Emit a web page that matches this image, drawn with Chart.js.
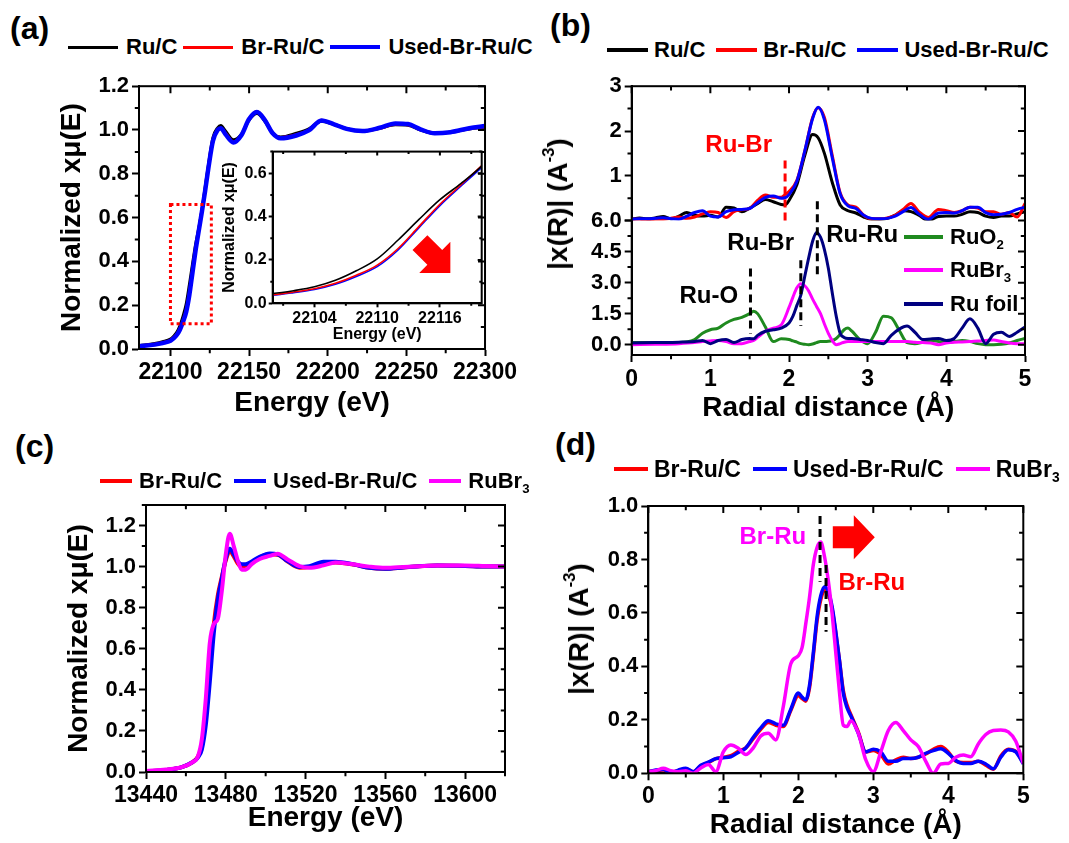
<!DOCTYPE html>
<html>
<head>
<meta charset="utf-8">
<title>Ru K-edge and Br K-edge XAS</title>
<script src="https://cdn.jsdelivr.net/npm/chart.js@4.4.1/dist/chart.umd.min.js"></script>
<style>
  body { margin: 0; width: 1069px; height: 843px; position: relative; overflow: hidden; background: #fff;
         font-family: "Liberation Sans", Arial, Helvetica, sans-serif; font-weight: bold; color: #000; }
  canvas { position: absolute; }
  .tag { position: absolute; font-size: 32px; line-height: 32px; }
  .legend { position: absolute; display: flex; align-items: center; white-space: nowrap; }
  .legend .ln { display: inline-block; }
  .ytitle { position: absolute; font-size: 28px; line-height: 28px; white-space: nowrap;
            transform: translate(-50%, -50%) rotate(-90deg); }
  sub { font-size: 0.6em; vertical-align: -0.35em; line-height: 0; }
  sup { font-size: 0.6em; vertical-align: 0.75em; line-height: 0; }
</style>
</head>
<body>
<div class="tag" style="left:10px; top:12px;">(a)</div>
<div class="tag" style="left:550px; top:9px;">(b)</div>
<div class="tag" style="left:15px; top:430px;">(c)</div>
<div class="tag" style="left:555px; top:428px;">(d)</div>

<canvas id="chartA" width="520" height="350" style="left:0; top:70px;"></canvas>
<canvas id="chartInset" width="275" height="206" style="left:215px; top:140px;"></canvas>
<canvas id="chartB" width="529" height="360" style="left:540px; top:70px;"></canvas>
<canvas id="chartC" width="530" height="410" style="left:0; top:430px;"></canvas>
<canvas id="chartD" width="529" height="412" style="left:540px; top:430px;"></canvas>

<div class="ytitle" style="left:558px; top:204px;">|x(R)| (A<sup>-3</sup>)</div>
<div class="ytitle" style="left:579px; top:629px;">|x(R)| (A<sup>-3</sup>)</div>

<script>
// ---------- data ----------

// (a) Ru K-edge XANES (also used by the inset)
const energyA = [22080, 22090, 22095, 22100, 22102, 22104, 22106, 22108, 22110, 22112, 22114, 22116, 22118, 22120,
                 22122, 22124, 22127, 22130, 22132, 22135, 22140, 22145, 22150, 22155, 22160, 22165, 22170, 22180,
                 22188, 22196, 22204, 22212, 22222, 22233, 22243, 22251, 22259, 22268, 22278, 22290, 22300];
const ruC_A = [0.015, 0.025, 0.033, 0.045, 0.058, 0.076, 0.106, 0.150, 0.205, 0.292, 0.387, 0.478, 0.552, 0.633,
               0.735, 0.835, 0.965, 1.01, 1.02, 0.995, 0.955, 0.98, 1.045, 1.075, 1.04, 0.985, 0.968, 0.985,
               1.005, 1.04, 1.025, 1.006, 0.995, 1.008, 1.024, 1.022, 1.0, 0.985, 0.99, 1.005, 1.012];
const brRuC_A = [0.013, 0.022, 0.029, 0.040, 0.052, 0.067, 0.092, 0.129, 0.176, 0.253, 0.355, 0.457, 0.546, 0.636,
                 0.725, 0.825, 0.955, 1.0, 1.008, 0.985, 0.945, 0.975, 1.05, 1.085, 1.048, 0.987, 0.965, 0.978,
                 1.0, 1.045, 1.027, 1.006, 0.995, 1.008, 1.026, 1.024, 1.002, 0.986, 0.99, 1.006, 1.015];
const usedA = [0.012, 0.02, 0.027, 0.037, 0.049, 0.064, 0.088, 0.124, 0.169, 0.246, 0.349, 0.451, 0.540, 0.627,
               0.72, 0.82, 0.95, 1.0, 1.008, 0.98, 0.943, 0.975, 1.05, 1.082, 1.045, 0.985, 0.962, 0.975,
               0.998, 1.043, 1.026, 1.005, 0.995, 1.01, 1.03, 1.027, 1.003, 0.985, 0.99, 1.008, 1.018];

// (b) FT-EXAFS, upper samples
const radiusB = [0, 0.1, 0.2, 0.3, 0.4, 0.5, 0.6, 0.7, 0.8, 0.9, 1.0, 1.1, 1.2, 1.3, 1.4, 1.5, 1.6, 1.7, 1.8, 1.9,
                 1.95, 2.0, 2.1, 2.2, 2.3, 2.37, 2.45, 2.55, 2.65, 2.75, 2.85, 2.95, 3.05, 3.15, 3.25, 3.35, 3.45,
                 3.55, 3.65, 3.77, 3.9, 4.0, 4.1, 4.2, 4.3, 4.4, 4.5, 4.6, 4.7, 4.8, 4.9, 5.0];
const ruC_B = [0.03, 0.06, 0.04, 0.06, 0.09, 0.04, 0.1, 0.18, 0.12, 0.1, 0.12, 0.08, 0.3, 0.28, 0.2, 0.28, 0.38, 0.47,
               0.42, 0.36, 0.35, 0.45, 0.8, 1.45, 1.92, 1.85, 1.5, 0.85, 0.35, 0.22, 0.17, 0.08, 0.03, 0.03, 0.05,
               0.12, 0.22, 0.2, 0.12, 0.0, 0.09, 0.1, 0.1, 0.14, 0.2, 0.18, 0.1, 0.07, 0.1, 0.1, 0.15, 0.2];
const brRuC_B = [0.03, 0.03, 0.0, 0.03, 0.03, 0.05, 0.08, 0.05, 0.08, 0.15, 0.2, 0.18, 0.07, 0.2, 0.24, 0.27, 0.45,
                 0.57, 0.52, 0.52, 0.58, 0.65, 0.9, 1.55, 2.3, 2.52, 2.3, 1.45, 0.62, 0.35, 0.3, 0.12, 0.04, 0.04,
                 0.06, 0.12, 0.25, 0.38, 0.2, 0.07, 0.25, 0.22, 0.18, 0.22, 0.3, 0.28, 0.2, 0.2, 0.14, 0.18, 0.08, 0.38];
const usedB = [0.03, 0.04, 0.04, 0.05, 0.066, 0.04, 0.03, 0.1, 0.18, 0.22, 0.1, 0.08, 0.2, 0.24, 0.25, 0.27, 0.4,
               0.52, 0.55, 0.5, 0.51, 0.58, 0.88, 1.55, 2.28, 2.53, 2.25, 1.4, 0.6, 0.33, 0.27, 0.12, 0.05, 0.04,
               0.05, 0.1, 0.2, 0.29, 0.15, 0.03, 0.17, 0.18, 0.17, 0.22, 0.3, 0.3, 0.18, 0.13, 0.14, 0.18, 0.25, 0.3];

// (b) FT-EXAFS, references (lower part)
const radiusRef = [0, 0.3, 0.6, 0.8, 0.9, 1.0, 1.1, 1.2, 1.3, 1.4, 1.5, 1.55, 1.6, 1.7, 1.8, 1.9, 2.0, 2.05, 2.1,
                   2.15, 2.2, 2.25, 2.3, 2.35, 2.4, 2.45, 2.5, 2.55, 2.6, 2.65, 2.7, 2.75, 2.8, 2.9, 3.0, 3.1, 3.2,
                   3.3, 3.4, 3.5, 3.6, 3.7, 3.8, 3.9, 4.0, 4.1, 4.2, 4.3, 4.4, 4.5, 4.6, 4.7, 4.8, 4.9, 5.0];
const ruO2_B = [0.11, 0.11, 0.11, 0.25, 0.55, 0.72, 0.8, 1.05, 1.22, 1.32, 1.5, 1.62, 1.5, 0.85, 0.15, 0.28, 0.25,
                0.18, 0.12, 0.05, 0.02, 0.0, 0.03, 0.1, 0.15, 0.15, 0.16, 0.2, 0.3, 0.5, 0.72, 0.8, 0.65, 0.25, 0.05,
                0.6, 1.38, 1.3, 0.7, 0.1, 0.05, 0.12, 0.2, 0.15, 0.1, 0.15, 0.2, 0.15, 0.05, 0.0, 0.0, 0.02, 0.08,
                0.2, 0.3];
const ruBr3_B = [0.0, 0.02, 0.05, 0.1, 0.15, 0.18, 0.2, 0.15, 0.05, 0.05, 0.15, 0.2, 0.35, 0.65, 0.8, 0.95, 1.8,
                 2.3, 2.75, 2.95, 2.85, 2.6, 2.2, 1.85, 1.5, 1.0, 0.55, 0.2, 0.0, 0.05, 0.12, 0.15, 0.15, 0.15, 0.15,
                 0.15, 0.15, 0.15, 0.15, 0.15, 0.12, 0.1, 0.08, 0.0, 0.08, 0.12, 0.13, 0.15, 0.18, 0.2, 0.22, 0.15,
                 0.08, 0.05, 0.05];
const ruFoil_B = [0.08, 0.1, 0.12, 0.15, 0.2, 0.05, 0.2, 0.25, 0.1, 0.25, 0.3, 0.28, 0.45, 0.65, 0.72, 0.8, 1.05,
                  1.38, 1.9, 2.4, 3.3, 4.2, 5.0, 5.43, 5.2, 4.6, 3.7, 2.5, 1.38, 0.55, 0.35, 0.3, 0.3, 0.25, 0.2,
                  0.1, 0.05, 0.45, 0.75, 0.9, 0.6, 0.25, 0.28, 0.3, 0.2, 0.3, 0.8, 1.25, 0.8, 0.05, 0.5, 0.6, 0.4,
                  0.6, 0.85];

// (c) Br K-edge XANES
const energyC = [13440, 13450, 13458, 13463, 13466, 13468, 13470, 13472, 13474, 13476, 13478, 13480, 13482, 13484,
                 13486, 13488, 13490, 13493, 13497, 13502, 13506, 13511, 13517, 13522, 13529, 13535, 13544, 13552,
                 13560, 13569, 13577, 13586, 13600, 13610, 13620];
const brRuC_C = [0.003, 0.01, 0.024, 0.046, 0.075, 0.13, 0.27, 0.5, 0.72, 0.86, 0.95, 1.03, 1.075, 1.05, 1.015, 1.0,
                 1.005, 1.02, 1.045, 1.06, 1.058, 1.025, 0.995, 0.998, 1.015, 1.02, 1.01, 0.994, 0.99, 0.996, 1.002,
                 1.005, 1.003, 1.0, 1.0];
const usedC = [0.003, 0.01, 0.024, 0.046, 0.07, 0.11, 0.23, 0.44, 0.676, 0.84, 0.94, 1.04, 1.087, 1.06, 1.025, 1.011,
               1.012, 1.025, 1.048, 1.064, 1.06, 1.027, 0.998, 1.002, 1.024, 1.024, 1.011, 0.994, 0.989, 0.996, 1.002,
               1.006, 1.003, 1.0, 1.0];
const ruBr3_C = [0.005, 0.012, 0.024, 0.046, 0.075, 0.16, 0.36, 0.63, 0.72, 0.745, 0.88, 1.06, 1.16, 1.1, 1.03, 0.985,
                 0.985, 1.012, 1.037, 1.052, 1.063, 1.035, 1.002, 0.994, 1.006, 1.02, 1.011, 1.0, 0.994, 0.998, 1.002,
                 1.005, 1.006, 1.003, 1.0];

// (d) Br K-edge FT-EXAFS
const radiusD = [0, 0.1, 0.2, 0.3, 0.4, 0.5, 0.6, 0.7, 0.8, 0.9, 1.0, 1.1, 1.2, 1.3, 1.4, 1.5, 1.6, 1.7, 1.8, 1.9, 2.0,
                 2.05, 2.1, 2.15, 2.2, 2.25, 2.3, 2.35, 2.4, 2.45, 2.5, 2.55, 2.6, 2.65, 2.7,
                 2.8, 2.9, 3.0, 3.1, 3.2, 3.3, 3.4, 3.5, 3.6, 3.7, 3.8, 3.9, 4.0, 4.1, 4.2, 4.3, 4.4, 4.5, 4.6, 4.7,
                 4.8, 4.9, 5.0];
const brRuC_D = [0.006, 0.01, 0.012, 0.004, 0.01, 0.017, 0.006, 0.028, 0.04, 0.055, 0.06, 0.066, 0.082, 0.095, 0.13,
                 0.165, 0.19, 0.18, 0.175, 0.235, 0.29,
                 0.28, 0.27, 0.32, 0.44, 0.57, 0.65, 0.685, 0.67, 0.615, 0.525, 0.42, 0.31, 0.255, 0.22,
                 0.155, 0.08, 0.085, 0.07, 0.035, 0.05, 0.06, 0.055, 0.06, 0.072, 0.09, 0.1, 0.08, 0.045, 0.04, 0.04,
                 0.045, 0.03, 0.015, 0.065, 0.09, 0.082, 0.04];
const usedD = [0.006, 0.012, 0.014, 0.002, 0.012, 0.019, 0.006, 0.03, 0.042, 0.055, 0.058, 0.062, 0.078, 0.095, 0.135,
               0.17, 0.197, 0.185, 0.18, 0.24, 0.3,
               0.285, 0.275, 0.33, 0.45, 0.585, 0.665, 0.698, 0.68, 0.625, 0.53, 0.42, 0.3, 0.245, 0.215,
               0.15, 0.08, 0.09, 0.08, 0.045, 0.045, 0.055, 0.055, 0.06, 0.075, 0.085, 0.092, 0.075, 0.048, 0.037,
               0.037, 0.045, 0.035, 0.017, 0.06, 0.088, 0.08, 0.035];
const ruBr3_D = [0.006, 0.01, 0.019, 0.01, 0.006, 0.01, 0.0, 0.02, 0.033, 0.006, 0.08, 0.106, 0.094, 0.07, 0.095,
                 0.14, 0.15, 0.125, 0.25, 0.41, 0.44,
                 0.47, 0.56, 0.66, 0.78, 0.845, 0.865, 0.81, 0.72, 0.6, 0.45, 0.3, 0.18, 0.175, 0.197,
                 0.15, 0.05, 0.006, 0.08, 0.16, 0.19, 0.16, 0.125, 0.1, 0.045, 0.0, 0.035, 0.037, 0.06, 0.068, 0.062,
                 0.11, 0.145, 0.16, 0.162, 0.155, 0.12, 0.037];

// tick values
const ticksXA = [22100, 22150, 22200, 22250, 22300];
const ticksYA = [0, 0.2, 0.4, 0.6, 0.8, 1.0, 1.2];
const ticksXInset = [22104, 22110, 22116];
const ticksYInset = [0, 0.2, 0.4, 0.6];
const ticksR = [0, 1, 2, 3, 4, 5];
const ticksYBup = [0, 1, 2, 3];
const ticksYBlow = [0, 1.5, 3.0, 4.5, 6.0];
const ticksXC = [13440, 13480, 13520, 13560, 13600];
const ticksYC = [0, 0.2, 0.4, 0.6, 0.8, 1.0, 1.2];
const ticksYD = [0, 0.2, 0.4, 0.6, 0.8, 1.0];

// ---------- chart setup ----------
const FONT = '"Liberation Sans", Arial, Helvetica, sans-serif';
Chart.defaults.font.family = FONT;
Chart.defaults.font.weight = 'bold';
Chart.defaults.color = '#000';

// extra drawing per canvas: minor tick steps and annotations
const extras = {
    chartA: {
        tick: 7, minor: { x: 25, y: 0.1 },
        boxes: [{ x0: 22100, x1: 22126, y0: 0.115, y1: 0.66, color: '#ff0000' }]
    },
    chartInset: {
        tick: 4, minor: { x: 3, y: 0.1 },
        arrows: [{ x: 22117, y: 0.14, angle: 45, len: 43, w: 21, hw: 44, hl: 22, color: '#ff0000' }]
    },
    chartB: {
        tick: 7, minor: { x: 0.5, y: 0.75, yUp: 0.5 },
        dashes: [
            { x: 1.95, y0: 0, a0: 'yUp', y1: 1.45, a1: 'yUp', color: '#ff0000' },
            { x: 2.36, y0: 0.43, a0: 'yUp', y1: 3.2, a1: 'y', color: '#000' },
            { x: 2.15, y0: 4.08, y1: 0.9, color: '#000' },
            { x: 1.51, y0: 3.68, y1: 0.51, color: '#000' }
        ],
        texts: [
            { text: 'Ru-Br', x: 1.36, y: 1.69, axis: 'yUp', color: '#ff0000', size: 24 },
            { text: 'Ru-Br', x: 1.64, y: 4.88, color: '#000', size: 24 },
            { text: 'Ru-Ru', x: 2.93, y: 5.29, color: '#000', size: 24 },
            { text: 'Ru-O', x: 0.98, y: 2.33, color: '#000', size: 24 }
        ]
    },
    chartC: { tick: 7, minor: { x: 20, y: 0.1 } },
    chartD: {
        tick: 7, minor: { x: 0.5, y: 0.1 },
        dashes: [
            { x: 2.29, y0: 0.963, y1: 0.717, color: '#000' },
            { x: 2.37, y0: 0.779, y1: 0.53, color: '#000' }
        ],
        arrows: [{ x: 3.02, y: 0.883, angle: 0, len: 42, w: 22, hw: 44, hl: 21, color: '#ff0000' }],
        texts: [
            { text: 'Br-Ru', x: 1.66, y: 0.883, color: '#ff00ff', size: 24 },
            { text: 'Br-Ru', x: 2.98, y: 0.711, color: '#ff0000', size: 24 }
        ]
    }
};

// closed frame with minor ticks and mirrored ticks on top / right
const framePlugin = {
    id: 'frame',
    afterDatasetsDraw(chart) {
        const spec = extras[chart.canvas.id];
        const ctx = chart.ctx, a = chart.chartArea;
        ctx.save();
        ctx.strokeStyle = '#000';
        ctx.lineWidth = 2;
        ctx.setLineDash([]);
        ctx.strokeRect(a.left, a.top, a.right - a.left, a.bottom - a.top);
        ctx.beginPath();
        Object.values(chart.scales).forEach(s => {
            const step = spec.minor[s.id];
            const majors = s.ticks.map(t => t.value);
            const n0 = Math.ceil(s.min / step - 1e-6), n1 = Math.floor(s.max / step + 1e-6);
            for (let k = n0; k <= n1; k++) {
                const v = k * step;
                const isMajor = majors.some(m => Math.abs(m - v) < step * 1e-3);
                const len = isMajor ? spec.tick : spec.tick * 0.6;
                const p = s.getPixelForValue(v);
                if (s.axis === 'x') {
                    if (!isMajor) { ctx.moveTo(p, a.bottom); ctx.lineTo(p, a.bottom + len); }
                    ctx.moveTo(p, a.top); ctx.lineTo(p, a.top + len);
                } else {
                    if (!isMajor) { ctx.moveTo(a.left - len, p); ctx.lineTo(a.left, p); }
                    ctx.moveTo(a.right, p); ctx.lineTo(a.right - len, p);
                }
            }
        });
        ctx.stroke();
        ctx.restore();
    }
};

// dashed markers, arrows, dotted box and labels placed in data coordinates
const notesPlugin = {
    id: 'notes',
    afterDatasetsDraw(chart) {
        const spec = extras[chart.canvas.id];
        const ctx = chart.ctx, sc = chart.scales;
        ctx.save();
        (spec.boxes || []).forEach(b => {
            ctx.setLineDash([3, 3]);
            ctx.lineWidth = 3;
            ctx.strokeStyle = b.color;
            const x0 = sc.x.getPixelForValue(b.x0), x1 = sc.x.getPixelForValue(b.x1);
            const y0 = sc.y.getPixelForValue(b.y0), y1 = sc.y.getPixelForValue(b.y1);
            ctx.strokeRect(x0, y1, x1 - x0, y0 - y1);
        });
        (spec.dashes || []).forEach(d => {
            ctx.setLineDash([8, 5]);
            ctx.lineWidth = 3;
            ctx.strokeStyle = d.color;
            const x = sc.x.getPixelForValue(d.x);
            ctx.beginPath();
            ctx.moveTo(x, sc[d.a0 || 'y'].getPixelForValue(d.y0));
            ctx.lineTo(x, sc[d.a1 || 'y'].getPixelForValue(d.y1));
            ctx.stroke();
        });
        ctx.setLineDash([]);
        (spec.arrows || []).forEach(r => {
            ctx.save();
            ctx.translate(sc.x.getPixelForValue(r.x), sc.y.getPixelForValue(r.y));
            ctx.rotate(r.angle * Math.PI / 180);
            ctx.beginPath();
            ctx.moveTo(-r.len, -r.w / 2);
            ctx.lineTo(-r.hl, -r.w / 2);
            ctx.lineTo(-r.hl, -r.hw / 2);
            ctx.lineTo(0, 0);
            ctx.lineTo(-r.hl, r.hw / 2);
            ctx.lineTo(-r.hl, r.w / 2);
            ctx.lineTo(-r.len, r.w / 2);
            ctx.closePath();
            ctx.fillStyle = r.color;
            ctx.fill();
            ctx.restore();
        });
        (spec.texts || []).forEach(t => {
            ctx.font = 'bold ' + t.size + 'px ' + FONT;
            ctx.fillStyle = t.color;
            ctx.textAlign = 'center';
            ctx.textBaseline = 'middle';
            ctx.fillText(t.text, sc.x.getPixelForValue(t.x), sc[t.axis || 'y'].getPixelForValue(t.y));
        });
        ctx.restore();
    }
};
Chart.register(framePlugin, notesPlugin);

function curve(label, xs, ys, color, width, order, axis) {
    return {
        label: label,
        data: xs.map((x, i) => ({ x: x, y: ys[i] })),
        borderColor: color,
        borderWidth: width,
        pointRadius: 0,
        fill: false,
        cubicInterpolationMode: 'monotone',
        order: order,
        yAxisID: axis || 'y'
    };
}

function axis(o) {
    const horizontal = o.pos === 'bottom';
    return {
        type: 'linear', position: o.pos, min: o.min, max: o.max,
        stack: o.stack, stackWeight: o.stack ? 1 : undefined,
        afterBuildTicks: s => { s.ticks = o.ticks.map(v => ({ value: v })); },
        afterFit: s => { if (horizontal) s.height = o.size; else s.width = o.size; },
        ticks: {
            font: { size: o.font }, padding: o.pad, autoSkip: false, maxRotation: 0,
            callback: v => (o.hideZero && v === 0) ? '' : v.toFixed(o.digits)
        },
        grid: { drawOnChartArea: false, tickLength: o.tick, tickWidth: 2, tickColor: '#000' },
        border: { color: '#000', width: 2 },
        title: {
            display: !!o.title, text: o.title, font: { size: o.titleFont },
            padding: horizontal ? { top: 0, bottom: o.titlePad } : { top: o.titlePad, bottom: 0 }
        }
    };
}

function options(padding, scales) {
    return {
        responsive: false,
        animation: false,
        events: [],
        layout: { padding: padding },
        plugins: { legend: { display: false }, tooltip: { enabled: false } },
        scales: scales
    };
}

// (a) main XANES
new Chart(document.getElementById('chartA'), {
    type: 'line',
    data: { datasets: [
        curve('Ru/C', energyA, ruC_A, '#000000', 3, 2),
        curve('Br-Ru/C', energyA, brRuC_A, '#ff0000', 3, 1),
        curve('Used-Br-Ru/C', energyA, usedA, '#0000ff', 4.5, 0)
    ] },
    options: options({ top: 11, right: 21, left: 0, bottom: 0 }, {
        x: axis({ pos: 'bottom', min: 22080, max: 22300, ticks: ticksXA, digits: 0, font: 23, pad: 3, tick: 7,
                  size: 71, title: 'Energy (eV)', titleFont: 28, titlePad: 0 }),
        y: axis({ pos: 'left', min: 0, max: 1.2, ticks: ticksYA, digits: 1, font: 22, pad: 3, tick: 7,
                  size: 139, title: 'Normalized xμ(E)', titleFont: 28, titlePad: 55 })
    })
});

// (a) inset, zoom on the edge
new Chart(document.getElementById('chartInset'), {
    type: 'line',
    data: { datasets: [
        curve('Ru/C', energyA, ruC_A, '#000000', 1.6, 0),
        curve('Br-Ru/C', energyA, brRuC_A, '#ff0000', 1.6, 1),
        curve('Used-Br-Ru/C', energyA, usedA, '#0000ff', 1.6, 2)
    ] },
    options: options({ top: 11, right: 8.3, left: 0, bottom: 0 }, {
        x: axis({ pos: 'bottom', min: 22100, max: 22120, ticks: ticksXInset, digits: 0, font: 16, pad: 2, tick: 4,
                  size: 42.7, title: 'Energy (eV)', titleFont: 16, titlePad: 1.4 }),
        y: axis({ pos: 'left', min: 0, max: 0.7, ticks: ticksYInset, digits: 1, font: 16, pad: 2, tick: 4,
                  size: 57.7, title: 'Normalized xμ(E)', titleFont: 16, titlePad: 5.4 })
    })
});

// (b) FT-EXAFS with stacked axes
new Chart(document.getElementById('chartB'), {
    type: 'line',
    data: { datasets: [
        curve('Ru/C', radiusB, ruC_B, '#000000', 3, 4, 'yUp'),
        curve('Br-Ru/C', radiusB, brRuC_B, '#ff0000', 3, 3, 'yUp'),
        curve('Used-Br-Ru/C', radiusB, usedB, '#0000ff', 3, 2, 'yUp'),
        curve('RuO2', radiusRef, ruO2_B, '#1f8a1f', 3, 5),
        curve('RuBr3', radiusRef, ruBr3_B, '#ff00ff', 3, 1),
        curve('Ru foil', radiusRef, ruFoil_B, '#000080', 3, 0)
    ] },
    options: options({ top: 11, right: 44, left: 0, bottom: 0 }, {
        x: axis({ pos: 'bottom', min: 0, max: 5, ticks: ticksR, digits: 0, font: 23, pad: 4, tick: 7,
                  size: 75, title: 'Radial distance (Å)', titleFont: 28, titlePad: 5 }),
        y: axis({ pos: 'left', min: -0.5, max: 6, ticks: ticksYBlow, digits: 1, font: 22, pad: 3, tick: 7,
                  size: 91.7, stack: 'b' }),
        yUp: axis({ pos: 'left', min: 0, max: 3, ticks: ticksYBup, digits: 0, font: 22, pad: 3, tick: 7,
                    size: 91.7, stack: 'b', hideZero: true })
    })
});

// (c) Br K-edge XANES
new Chart(document.getElementById('chartC'), {
    type: 'line',
    data: { datasets: [
        curve('Br-Ru/C', energyC, brRuC_C, '#ff0000', 4, 2),
        curve('Used-Br-Ru/C', energyC, usedC, '#0000ff', 4, 1),
        curve('RuBr3', energyC, ruBr3_C, '#ff00ff', 4, 0)
    ] },
    options: options({ top: 75, right: 25, left: 0, bottom: 0 }, {
        x: axis({ pos: 'bottom', min: 13440, max: 13620, ticks: ticksXC, digits: 0, font: 23, pad: 3, tick: 7,
                  size: 68, title: 'Energy (eV)', titleFont: 28, titlePad: 5.2 }),
        y: axis({ pos: 'left', min: 0, max: 1.3, ticks: ticksYC, digits: 1, font: 22, pad: 3, tick: 7,
                  size: 146, title: 'Normalized xμ(E)', titleFont: 28, titlePad: 62 })
    })
});

// (d) Br K-edge FT-EXAFS
new Chart(document.getElementById('chartD'), {
    type: 'line',
    data: { datasets: [
        curve('Br-Ru/C', radiusD, brRuC_D, '#ff0000', 3.5, 2),
        curve('Used-Br-Ru/C', radiusD, usedD, '#0000ff', 3.5, 1),
        curve('RuBr3', radiusD, ruBr3_D, '#ff00ff', 3.5, 0)
    ] },
    options: options({ top: 76, right: 45.7, left: 0, bottom: 0 }, {
        x: axis({ pos: 'bottom', min: 0, max: 5, ticks: ticksR, digits: 0, font: 23, pad: 3, tick: 7,
                  size: 68.7, title: 'Radial distance (Å)', titleFont: 28, titlePad: 0.2 }),
        y: axis({ pos: 'left', min: 0, max: 1.0, ticks: ticksYD, digits: 1, font: 22, pad: 3, tick: 7,
                  size: 108.3, title: '' })
    })
});

// ---------- legends ----------
function legend(left, cy, items, lineW, gap, sep, size) {
    const div = document.createElement('div');
    div.className = 'legend';
    div.style.left = left + 'px';
    div.style.top = (cy - size / 2) + 'px';
    div.style.height = size + 'px';
    div.style.fontSize = size + 'px';
    items.forEach((it, i) => {
        const ln = document.createElement('span');
        ln.className = 'ln';
        ln.style.width = lineW + 'px';
        ln.style.height = it.w + 'px';
        ln.style.background = it.color;
        ln.style.marginLeft = (i ? sep : 0) + 'px';
        ln.style.marginRight = gap + 'px';
        const tx = document.createElement('span');
        tx.innerHTML = it.label;
        div.appendChild(ln);
        div.appendChild(tx);
    });
    document.body.appendChild(div);
}

legend(68, 47, [
    { label: 'Ru/C', color: '#000000', w: 3 },
    { label: 'Br-Ru/C', color: '#ff0000', w: 3 },
    { label: 'Used-Br-Ru/C', color: '#0000ff', w: 4 }
], 50, 8, 6, 22);

legend(607, 50, [
    { label: 'Ru/C', color: '#000000', w: 4 },
    { label: 'Br-Ru/C', color: '#ff0000', w: 4 },
    { label: 'Used-Br-Ru/C', color: '#0000ff', w: 4 }
], 41, 6, 11, 22);

legend(904, 237, [{ label: 'RuO<sub>2</sub>', color: '#1f8a1f', w: 4 }], 39, 7, 0, 22);
legend(904, 270, [{ label: 'RuBr<sub>3</sub>', color: '#ff00ff', w: 4 }], 39, 7, 0, 22);
legend(904, 304, [{ label: 'Ru foil', color: '#000080', w: 4 }], 39, 7, 0, 22);

legend(100, 481, [
    { label: 'Br-Ru/C', color: '#ff0000', w: 4 },
    { label: 'Used-Br-Ru/C', color: '#0000ff', w: 4 },
    { label: 'RuBr<sub>3</sub>', color: '#ff00ff', w: 4 }
], 32, 7, 12, 22);

legend(614, 469, [
    { label: 'Br-Ru/C', color: '#ff0000', w: 4 },
    { label: 'Used-Br-Ru/C', color: '#0000ff', w: 4 },
    { label: 'RuBr<sub>3</sub>', color: '#ff00ff', w: 4 }
], 34, 6, 12, 23);
</script>
</body>
</html>
